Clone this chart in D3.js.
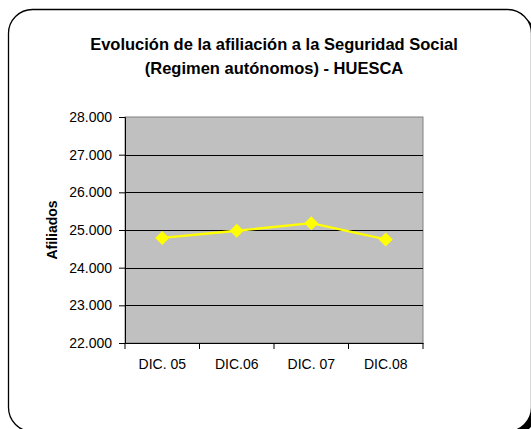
<!DOCTYPE html>
<html>
<head>
<meta charset="utf-8">
<script src="https://cdn.jsdelivr.net/npm/d3@7"></script>
<style>
  body { margin: 0; background: #fff; }
  text { font-family: "Liberation Sans", Arial, sans-serif; }
</style>
</head>
<body>
<div id="chart"></div>
<script>
// datos
var categorias = ["DIC. 05", "DIC.06", "DIC. 07", "DIC.08"];
var afiliados = [24790, 24980, 25180, 24750];
var ticksY = [22000, 23000, 24000, 25000, 26000, 27000, 28000];
var titulo = ["Evolución de la afiliación a la Seguridad Social", "(Regimen autónomos) - HUESCA"];

var w = 531, h = 429;
var mLeft = 125, mRight = 423, mTop = 117, mBottom = 343;

var svg = d3.select("#chart").append("svg")
  .attr("width", w)
  .attr("height", h)
  .style("display", "block");

// sombra + marco redondeado
svg.append("rect")
  .attr("x", 13).attr("y", 14)
  .attr("width", 523).attr("height", 422)
  .attr("rx", 24).attr("ry", 24)
  .attr("fill", "#000");

svg.append("rect")
  .attr("x", 8.5).attr("y", 9.5)
  .attr("width", 523).attr("height", 422)
  .attr("rx", 24).attr("ry", 24)
  .attr("fill", "#fff")
  .attr("stroke", "#000")
  .attr("stroke-width", 1.3);

// titulo
svg.append("text")
  .attr("x", 274).attr("y", 50)
  .attr("text-anchor", "middle")
  .attr("font-weight", "bold")
  .attr("font-size", 16.5)
  .selectAll("tspan")
  .data(titulo)
  .enter().append("tspan")
  .attr("x", 274)
  .attr("dy", function(d, i){ return i ? 23.5 : 0; })
  .text(function(d){ return d; });

var x = d3.scaleBand().domain(categorias).range([mLeft, mRight]);
var y = d3.scaleLinear().domain([22000, 28000]).range([mBottom, mTop]);

// area de trazado
svg.append("rect")
  .attr("x", mLeft).attr("y", mTop)
  .attr("width", mRight - mLeft).attr("height", mBottom - mTop)
  .attr("fill", "#c0c0c0")
  .attr("stroke", "#808080")
  .attr("stroke-width", 1);

// lineas de division
svg.append("g")
  .selectAll("line")
  .data(ticksY.slice(1, -1))
  .enter().append("line")
  .attr("x1", mLeft).attr("x2", mRight)
  .attr("y1", function(d){ return Math.round(y(d)) + 0.5; })
  .attr("y2", function(d){ return Math.round(y(d)) + 0.5; })
  .attr("stroke", "#000");

var fmt = function(d){ return d3.format(",")(d).replace(/,/g, "."); };

// eje Y
var gy = svg.append("g")
  .attr("transform", "translate(" + mLeft + ",0)")
  .call(d3.axisLeft(y).tickValues(ticksY).tickFormat(fmt).tickSize(6).tickPadding(7));
gy.selectAll("text").attr("font-size", 14).attr("fill", "#000").style("font-family", "Liberation Sans, Arial, sans-serif");
gy.selectAll("line, path").attr("stroke", "#000");

// eje X
var gx = svg.append("g")
  .attr("transform", "translate(0," + mBottom + ")")
  .call(d3.axisBottom(x).tickSize(0).tickPadding(16));
gx.select(".domain").attr("stroke", "#000");
gx.selectAll("text").attr("font-size", 14).attr("fill", "#000").style("font-family", "Liberation Sans, Arial, sans-serif");
gx.selectAll(".sep")
  .data(d3.range(categorias.length + 1))
  .enter().append("line")
  .attr("x1", function(i){ return mLeft + i * x.step(); })
  .attr("x2", function(i){ return mLeft + i * x.step(); })
  .attr("y1", 0).attr("y2", 6)
  .attr("stroke", "#000");

// titulo eje Y
svg.append("text")
  .attr("transform", "translate(57," + ((mTop + mBottom) / 2) + ") rotate(-90)")
  .attr("text-anchor", "middle")
  .attr("font-weight", "bold")
  .attr("font-size", 14)
  .text("Afiliados");

// serie
var line = d3.line()
  .x(function(d, i){ return x(categorias[i]) + x.bandwidth() / 2; })
  .y(function(d){ return y(d); });

svg.append("path")
  .datum(afiliados)
  .attr("d", line)
  .attr("fill", "none")
  .attr("stroke", "#ffff00")
  .attr("stroke-width", 2.3);

svg.selectAll(".marca")
  .data(afiliados)
  .enter().append("path")
  .attr("class", "marca")
  .attr("d", d3.symbol().type(d3.symbolDiamond2).size(125))
  .attr("transform", function(d, i){
    return "translate(" + (x(categorias[i]) + x.bandwidth() / 2) + "," + y(d) + ")";
  })
  .attr("fill", "#ffff00");
</script>
</body>
</html>
